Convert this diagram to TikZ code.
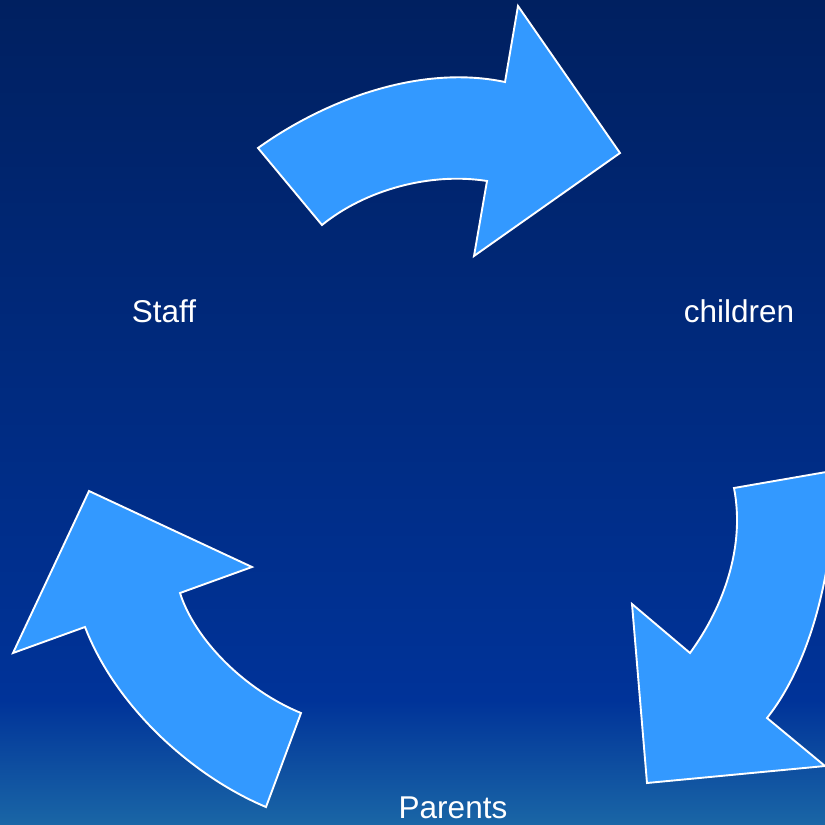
\documentclass[tikz,border=0pt]{standalone}
\usepackage{fontspec}
\setmainfont{Liberation Sans}
\definecolor{navytop}{RGB}{0,32,96}
\definecolor{royalmid}{RGB}{0,51,153}
\definecolor{tealbot}{RGB}{26,102,166}
\definecolor{arrowblue}{RGB}{51,153,255}
\tikzset{
  cyclearrow/.style={fill=arrowblue, draw=white, line width=1.9pt, line join=miter},
  cyclelabel/.style={text=white, font=\fontsize{31.5}{38}\selectfont, inner sep=0pt}
}
\begin{document}
\begin{tikzpicture}[x=1pt,y=-1pt]
   \useasboundingbox (0,0) rectangle (825,825);
   \shade[top color=navytop, bottom color=royalmid] (0,0) rectangle (825,701);
   \shade[top color=royalmid, bottom color=tealbot] (0,700) rectangle (825,825);

   \begin{scope}
    \clip (0,0) rectangle (825,825);
    % staff -> children
    \draw[cyclearrow] (258,148) .. controls (325,100) and (420,64) .. (505,82)
      -- (518,6) -- (620,153) -- (474,256) -- (487,181)
      .. controls (430,172) and (365,190) .. (322,225) -- cycle;
    % children -> parents
    \draw[cyclearrow] (832,471) .. controls (838,550) and (815,658) .. (767,718)
      -- (825,766) -- (647,783) -- (632,604) -- (690,653)
      .. controls (725,605) and (745,545) .. (734,488) -- cycle;
    % parents -> staff
    \draw[cyclearrow] (85,627) -- (13,653) -- (89,491) -- (252,567) -- (180,593)
      .. controls (195,640) and (245,690) .. (301,713) -- (266,807)
      .. controls (190,775) and (115,705) .. (85,627) -- cycle;
   \end{scope}

   \node[cyclelabel] (staff) at (164,311) {Staff};
   \node[cyclelabel] (children) at (739,311) {children};
   \node[cyclelabel] (parents) at (453,808) {Parents};
\end{tikzpicture}
\end{document}
